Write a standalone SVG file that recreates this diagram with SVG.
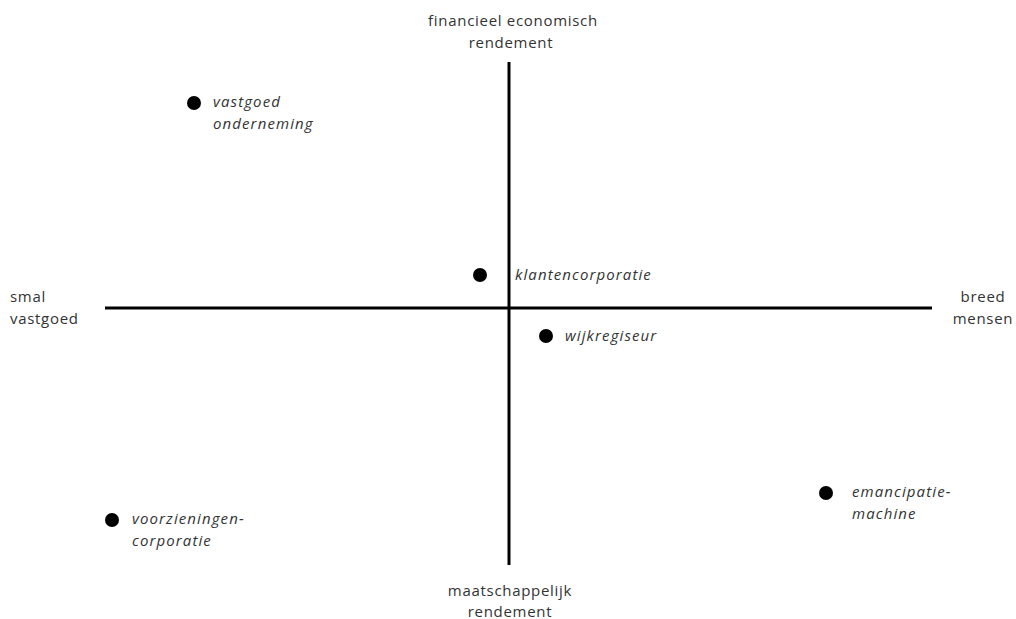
<svg xmlns="http://www.w3.org/2000/svg" width="1016" height="619" viewBox="0 0 1016 619">
<style>
.t{font-family:"Open Sans","Noto Sans","DejaVu Sans",sans-serif;font-size:15px;fill:#333;letter-spacing:0.7px}
.i{font-style:italic;letter-spacing:1.1px}
.m{text-anchor:middle}
.ax{stroke:#000;stroke-width:3}
.d{fill:#000}
</style>
<rect width="1016" height="619" fill="#fff"/>
<g id="axes">
<line class="ax" x1="509" y1="62" x2="509" y2="565"/>
<line class="ax" x1="105" y1="308" x2="932" y2="308"/>
</g>
<g id="label-top"><text class="t m" x="513" y="26">financieel economisch</text><text class="t m" x="511" y="48">rendement</text></g>
<g id="label-bottom"><text class="t m" x="510" y="596">maatschappelijk</text><text class="t m" x="510" y="617">rendement</text></g>
<g id="label-left"><text class="t" x="10" y="302">smal</text><text class="t" x="10" y="324">vastgoed</text></g>
<g id="label-right"><text class="t m" x="983" y="302">breed</text><text class="t m" x="983" y="324">mensen</text></g>
<g id="vastgoedonderneming"><circle class="d" cx="194" cy="103" r="7"/><text class="t i" x="213" y="107">vastgoed</text><text class="t i" x="213" y="129">onderneming</text></g>
<g id="klantencorporatie"><circle class="d" cx="480" cy="275" r="7"/><text class="t i" x="515" y="280">klantencorporatie</text></g>
<g id="wijkregiseur"><circle class="d" cx="546" cy="336" r="7"/><text class="t i" x="565" y="341">wijkregiseur</text></g>
<g id="voorzieningencorporatie"><circle class="d" cx="112" cy="520" r="7"/><text class="t i" x="132" y="524">voorzieningen-</text><text class="t i" x="132" y="546">corporatie</text></g>
<g id="emancipatiemachine"><circle class="d" cx="826" cy="493" r="7"/><text class="t i" x="852" y="497">emancipatie-</text><text class="t i" x="852" y="519">machine</text></g>
</svg>
